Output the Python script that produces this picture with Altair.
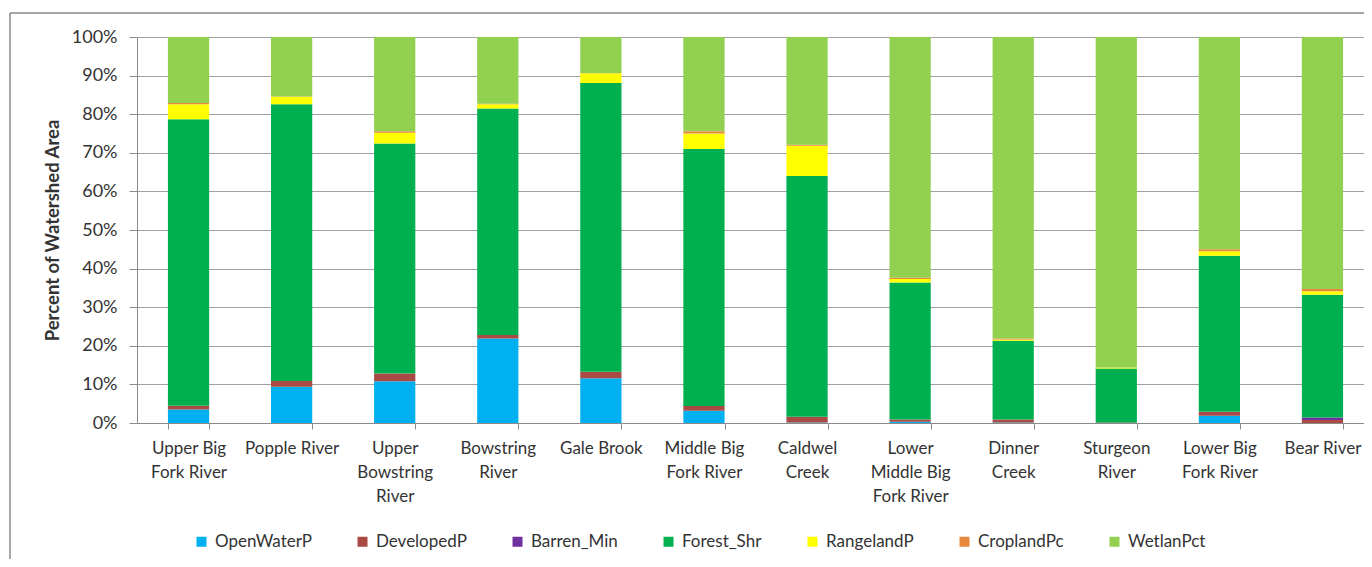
import json
import altair as alt
import pandas as pd

categories = ["Upper Big Fork River", "Popple River", "Upper Bowstring River", "Bowstring River",
              "Gale Brook", "Middle Big Fork River", "Caldwel Creek", "Lower Middle Big Fork River",
              "Dinner Creek", "Sturgeon River", "Lower Big Fork River", "Bear River"]
wrapped = [["Upper Big", "Fork River"], ["Popple River"], ["Upper", "Bowstring", "River"],
           ["Bowstring", "River"], ["Gale Brook"], ["Middle Big", "Fork River"], ["Caldwel", "Creek"],
           ["Lower", "Middle Big", "Fork River"], ["Dinner", "Creek"], ["Sturgeon", "River"],
           ["Lower Big", "Fork River"], ["Bear River"]]

series = ["OpenWaterP", "DevelopedP", "Barren_Min", "Forest_Shr", "RangelandP", "CroplandPc", "WetlanPct"]
colors = ["#00B0F0", "#A94A44", "#7030A0", "#00B050", "#FFFF00", "#E8883C", "#92D050"]

open_water = [3.5, 9.4, 10.8, 21.9, 11.6, 3.2, 0.1, 0.3, 0.1, 0.0, 1.9, 0.0]
developed = [1.0, 1.5, 2.0, 0.9, 1.7, 1.2, 1.5, 0.6, 0.8, 0.1, 1.0, 0.8]
barren = [0.0, 0.0, 0.0, 0.0, 0.0, 0.0, 0.0, 0.0, 0.0, 0.0, 0.0, 0.6]
forest = [74.2, 71.7, 59.6, 58.7, 74.8, 66.6, 62.4, 35.5, 20.4, 14.0, 40.4, 31.8]
rangeland = [3.9, 1.9, 2.8, 1.1, 2.5, 4.0, 7.8, 0.9, 0.3, 0.3, 1.2, 0.9]
cropland = [0.3, 0.1, 0.4, 0.1, 0.1, 0.6, 0.3, 0.3, 0.3, 0.0, 0.5, 0.6]
wetland = [17.1, 15.4, 24.4, 17.3, 9.3, 24.4, 27.9, 62.4, 78.1, 85.6, 55.0, 65.3]

values = [open_water, developed, barren, forest, rangeland, cropland, wetland]

rows = []
for si, (s, vals) in enumerate(zip(series, values)):
    for c, v in zip(categories, vals):
        rows.append({"Watershed": c, "Land": s, "order": si, "Pct": v / 100.0})
df = pd.DataFrame(rows)

label_map = json.dumps(dict(zip(categories, wrapped)))
FONT = "Lato"
TXT = "#333333"
GRID = "#a0a0a0"
AX = "#8a8a8a"

W, H = 1227, 386

bars = alt.Chart(df).mark_bar().encode(
    x=alt.X("Watershed:N", sort=categories,
            scale=alt.Scale(range=[0, 1237], paddingInner=0.6, paddingOuter=0.3),
            axis=alt.Axis(title=None, labelAngle=0, labelExpr=label_map + "[datum.value]",
                          labelFontSize=17, labelFont=FONT, labelColor=TXT,
                          labelLineHeight=24, labelBaseline="top", labelPadding=11,
                          tickBand="extent", tickSize=6, tickColor=AX,
                          domainColor=AX, labelLimit=200)),
    y=alt.Y("Pct:Q", stack="zero",
            scale=alt.Scale(domain=[0, 1], nice=False),
            axis=alt.Axis(title="Percent of Watershed Area", format=".0%",
                          values=[i / 10 for i in range(11)],
                          labelFontSize=18, labelFont=FONT, labelColor=TXT,
                          labelPadding=12, tickSize=8, tickColor=AX, domainColor=AX,
                          gridColor=GRID, titleFont=FONT, titleFontSize=18.5,
                          titleFontWeight="bold", titleColor=TXT, titlePadding=9)),
    color=alt.Color("Land:N", sort=series,
                    scale=alt.Scale(domain=series, range=colors),
                    legend=alt.Legend(title=None, orient="none", direction="horizontal",
                                      legendX=56, legendY=496, columns=7,
                                      symbolType="square", symbolSize=100,
                                      symbolStrokeWidth=0, symbolOffset=0,
                                      labelFont=FONT, labelFontSize=17, labelColor=TXT,
                                      labelOffset=5, columnPadding=42, padding=0)),
    order=alt.Order("order:Q", sort="ascending"),
)

frame = pd.DataFrame({"k": [0]})
left_border = alt.Chart(frame).mark_rule(color=AX, strokeWidth=1.5).encode(
    x=alt.value(-127), y=alt.value(-24), y2=alt.value(700))
top_border = alt.Chart(frame).mark_rule(color=AX, strokeWidth=1.5).encode(
    x=alt.value(-127), x2=alt.value(1400), y=alt.value(-24))

chart = alt.layer(left_border, top_border, bars).properties(
    width=W, height=H,
    autosize=alt.AutoSizeParams(type="none"),
    padding={"left": 129, "top": 29, "right": 0, "bottom": 136},
).configure_view(stroke=None).configure(background="white")

chart.save("out.html", embed_options={"renderer": "svg", "actions": False})
